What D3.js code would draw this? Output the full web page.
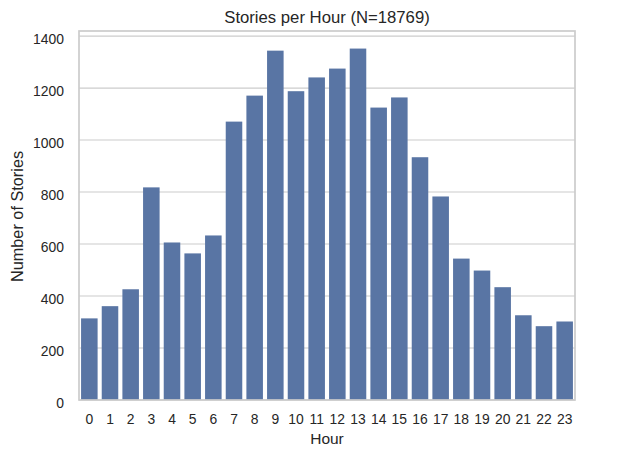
<!DOCTYPE html>
<html>
<head>
<meta charset="utf-8">
<script src="https://cdn.jsdelivr.net/npm/d3@7"></script>
<style>
  body { margin: 0; background: #fff; }
  text { font-family: "Liberation Sans", Arial, sans-serif; fill: #262626; }
</style>
</head>
<body>
<svg id="chart" width="638" height="459"></svg>
<script>
const hours = ["0","1","2","3","4","5","6","7","8","9","10","11","12","13","14","15","16","17","18","19","20","21","22","23"];
const stories = [314,361,426,818,606,564,633,1071,1171,1344,1188,1241,1275,1352,1125,1164,934,783,544,498,434,326,284,302];
const yTicks = [0,200,400,600,800,1000,1200,1400];
const titleText = "Stories per Hour (N=18769)";
const xLabel = "Hour";
const yLabel = "Number of Stories";

const W = 638, H = 459;
const m = {left: 79, right: 63, top: 31, bottom: 59};
const iw = W - m.left - m.right, ih = H - m.top - m.bottom;

const svg = d3.select("#chart");
const g = svg.append("g").attr("transform", `translate(${m.left},${m.top})`);

const x = d3.scaleBand().domain(hours).range([0, iw]).paddingInner(0.2).paddingOuter(0.1);
const y = d3.scaleLinear().domain([0, d3.max(stories) * 1.05]).range([ih, 0]);

// grid
g.append("g").selectAll("line").data(yTicks).join("line")
  .attr("x1", 0).attr("x2", iw)
  .attr("y1", d => y(d)).attr("y2", d => y(d))
  .attr("stroke", "#cccccc").attr("stroke-width", 1.1);

// bars
g.append("g").selectAll("rect").data(stories).join("rect")
  .attr("x", (d, i) => x(hours[i]))
  .attr("width", x.bandwidth())
  .attr("y", d => y(d))
  .attr("height", d => ih - y(d))
  .attr("fill", "#5975a4");

// axes
const yAxis = g.append("g").call(d3.axisLeft(y).tickValues(yTicks).tickFormat(d3.format("d")).tickSize(0).tickPadding(15));
yAxis.select(".domain").remove();
yAxis.selectAll("text").style("font-size", "13.9px").attr("fill", "#262626").attr("dy", "0.55em");

const xAxis = g.append("g").attr("transform", `translate(0,${ih})`)
  .call(d3.axisBottom(x).tickSize(0).tickPadding(14));
xAxis.select(".domain").remove();
xAxis.selectAll("text").style("font-size", "13.9px").attr("fill", "#262626");

// spines
g.append("rect").attr("x", 0).attr("y", 0).attr("width", iw).attr("height", ih)
  .attr("fill", "none").attr("stroke", "#cccccc").attr("stroke-width", 1.7);

// labels
svg.append("text").attr("x", m.left + iw / 2).attr("y", 23)
  .attr("text-anchor", "middle").style("font-size", "16.7px").text(titleText);
svg.append("text").attr("x", m.left + iw / 2).attr("y", 444)
  .attr("text-anchor", "middle").style("font-size", "15.5px").text(xLabel);
svg.append("text").attr("transform", `translate(23,${m.top + ih / 2 + 1}) rotate(-90)`)
  .attr("text-anchor", "middle").style("font-size", "16.3px").text(yLabel);
</script>
</body>
</html>
